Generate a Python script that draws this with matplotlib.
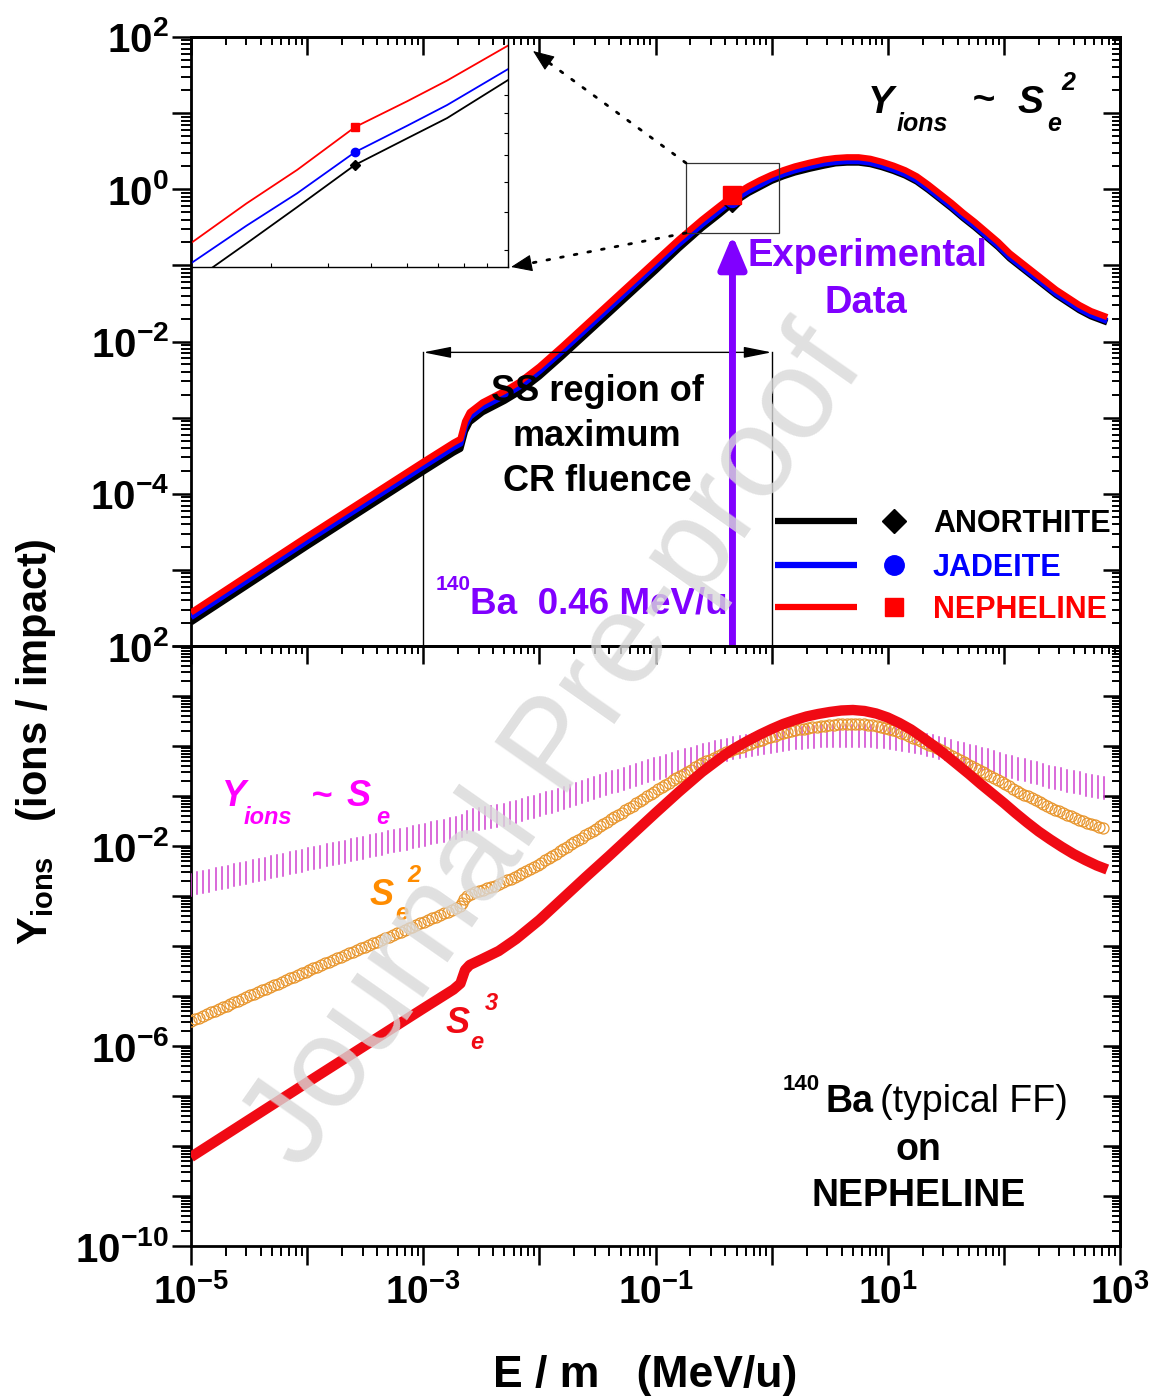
import numpy as np
import matplotlib
matplotlib.use("Agg")
import matplotlib.pyplot as plt
from matplotlib import font_manager as fm
from matplotlib.patheffects import AbstractPathEffect
from matplotlib.path import Path
from matplotlib.transforms import Affine2D, IdentityTransform
from matplotlib.lines import Line2D
from matplotlib.patches import FancyArrowPatch, Rectangle
from matplotlib.ticker import FixedLocator, FuncFormatter, NullFormatter

# ---------------------------------------------------------------- data
# (log10 values)
# Top panel: Y_ions ~ S_e^2 for three minerals
LOG_E_TOP = [-5.00, -4.00, -3.00, -2.74, -2.68, -2.64, -2.60, -2.49,
             -2.30, -2.17, -2.00, -1.80, -1.60, -1.40, -1.20, -1.00, -0.80, -0.60,
             -0.45, -0.34, -0.20, -0.10, 0.00, 0.10, 0.20, 0.33,
             0.45, 0.55, 0.65, 0.75, 0.85, 0.95, 1.05, 1.15, 1.25, 1.35,
             1.45, 1.55, 1.65, 1.75, 1.85, 1.95, 2.05, 2.15, 2.25, 2.35,
             2.45, 2.55, 2.65, 2.75, 2.89]
LOG_Y_NEPHELINE = [-5.56, -4.56, -3.58, -3.33, -3.28, -3.05, -2.93, -2.80,
                   -2.65, -2.53, -2.33, -2.06, -1.78, -1.50, -1.22, -0.94, -0.66, -0.40,
                   -0.22, -0.09, 0.04, 0.12, 0.19, 0.25, 0.30, 0.35,
                   0.39, 0.41, 0.42, 0.42, 0.40, 0.36, 0.31, 0.25, 0.17, 0.06,
                   -0.06, -0.18, -0.31, -0.43, -0.56, -0.69, -0.84, -0.96, -1.08, -1.20,
                   -1.32, -1.42, -1.52, -1.60, -1.68]
LOG_Y_JADEITE = [-5.62, -4.62, -3.64, -3.39, -3.34, -3.11, -2.99, -2.86,
                 -2.71, -2.59, -2.39, -2.12, -1.84, -1.56, -1.28, -1.00, -0.72, -0.46,
                 -0.28, -0.15, -0.02, 0.06, 0.14, 0.20, 0.25, 0.30,
                 0.34, 0.36, 0.37, 0.37, 0.35, 0.31, 0.26, 0.20, 0.12, 0.01,
                 -0.11, -0.23, -0.36, -0.48, -0.61, -0.74, -0.89, -1.01, -1.13, -1.25,
                 -1.37, -1.47, -1.57, -1.65, -1.73]
LOG_Y_ANORTHITE = [-5.69, -4.69, -3.71, -3.46, -3.41, -3.18, -3.06, -2.93,
                   -2.78, -2.66, -2.46, -2.19, -1.91, -1.63, -1.35, -1.07, -0.78, -0.51,
                   -0.33, -0.19, -0.05, 0.03, 0.11, 0.17, 0.22, 0.27,
                   0.31, 0.34, 0.35, 0.35, 0.33, 0.29, 0.24, 0.18, 0.10, -0.01,
                   -0.13, -0.25, -0.38, -0.50, -0.63, -0.76, -0.91, -1.03, -1.15, -1.27,
                   -1.39, -1.49, -1.59, -1.67, -1.75]

# Experimental point (140Ba, 0.46 MeV/u)
E_EXP = 0.46
Y_EXP = {"ANORTHITE": 0.662, "JADEITE": 0.714, "NEPHELINE": 0.828}

# Inset (zoom around the experimental point)
INSET_E = [0.20, 0.265, 0.343, 0.46, 0.60, 0.734, 1.00]
INSET_Y_NEPHELINE = [0.417, 0.527, 0.643, 0.828, 0.965, 1.09, 1.34]
INSET_Y_JADEITE = [0.370, 0.462, 0.560, 0.714, 0.835, 0.943, 1.166]
INSET_Y_ANORTHITE = [0.330, 0.416, 0.516, 0.662, 0.775, 0.873, 1.093]
INSET_XLIM = (0.20, 1.00)
INSET_YLIM = (0.362, 1.41)
ZOOM_BOX_E = (0.184, 1.16)
ZOOM_BOX_Y = (0.265, 2.21)

# Bottom panel: nepheline, Y ~ S_e, S_e^2, S_e^3
LOG_E_BOT = [-5.00, -4.00, -3.00, -2.74, -2.68, -2.64, -2.60, -2.50, -2.35, -2.20,
             -2.00, -1.80, -1.60, -1.40, -1.20, -1.00, -0.80, -0.60, -0.40, -0.30,
             -0.20, -0.10, 0.00, 0.10, 0.20, 0.30, 0.40, 0.50, 0.60, 0.70,
             0.80, 0.90, 1.00, 1.10, 1.20, 1.30, 1.40, 1.50, 1.60, 1.70,
             1.80, 1.90, 2.00, 2.10, 2.20, 2.30, 2.40, 2.50, 2.60, 2.70, 2.80, 2.89]
LOG_Y_SE1 = [-2.77, -2.27, -1.78, -1.65, -1.62, -1.53, -1.50, -1.46, -1.40, -1.31,
             -1.19, -1.05, -0.90, -0.75, -0.60, -0.46, -0.32, -0.19, -0.08, -0.03,
             0.01, 0.05, 0.09, 0.12, 0.15, 0.17, 0.19, 0.20, 0.21, 0.21,
             0.21, 0.19, 0.17, 0.14, 0.10, 0.05, -0.01, -0.07, -0.13, -0.19,
             -0.25, -0.31, -0.38, -0.44, -0.50, -0.56, -0.62, -0.67, -0.72, -0.77, -0.82, -0.86]
LOG_Y_SE2 = [-5.50, -4.50, -3.52, -3.27, -3.20, -3.03, -2.96, -2.89, -2.77, -2.60,
             -2.36, -2.07, -1.78, -1.49, -1.20, -0.90, -0.61, -0.35, -0.13, -0.05,
             0.03, 0.11, 0.19, 0.26, 0.31, 0.36, 0.39, 0.42, 0.44, 0.44,
             0.43, 0.40, 0.35, 0.28, 0.19, 0.09, -0.02, -0.13, -0.26, -0.38,
             -0.50, -0.62, -0.75, -0.88, -1.00, -1.12, -1.23, -1.33, -1.43, -1.52, -1.60, -1.67]
LOG_Y_SE3 = [-8.22, -6.73, -5.25, -4.87, -4.75, -4.48, -4.38, -4.27, -4.10, -3.86,
             -3.48, -3.05, -2.62, -2.20, -1.77, -1.34, -0.92, -0.52, -0.17, -0.02,
             0.11, 0.23, 0.34, 0.44, 0.52, 0.59, 0.64, 0.68, 0.71, 0.72,
             0.70, 0.65, 0.57, 0.46, 0.33, 0.17, 0.00, -0.18, -0.37, -0.56,
             -0.76, -0.95, -1.14, -1.34, -1.53, -1.71, -1.87, -2.02, -2.16, -2.28, -2.39, -2.47]

SS_E_RANGE = (1e-3, 1.0)
SS_ARROW_Y = 7.2e-3
EXP_ARROW_TOP = 0.25

TOP_YLABEL_EXP = [2, 0, -2, -4]
BOT_YLABEL_EXP = [2, -2, -6, -10]
X_LABEL_EXP = [-5, -3, -1, 1, 3]

# ---------------------------------------------------------------- style
BLACK, BLUE, RED = "#000000", "#0000FF", "#FF0000"
PURPLE = "#8000FF"
MAGENTA_TXT, MAGENTA_BAR = "#FF00FF", "#D040D0"
ORANGE_TXT, ORANGE_MK = "#FF8C00", "#E8962E"
RED3 = "#F00A14"


def has_font(name):
    try:
        fm.findfont(fm.FontProperties(family=name), fallback_to_default=False)
        return True
    except Exception:
        return False


NARROW = "Liberation Sans Narrow" if has_font("Liberation Sans Narrow") else "Liberation Sans"
XT_SIZE = 31 if NARROW != "Liberation Sans" else 28

plt.rcParams["font.family"] = ["Liberation Sans", "DejaVu Sans"]
plt.rcParams["font.weight"] = "bold"
plt.rcParams["mathtext.fontset"] = "custom"
plt.rcParams["mathtext.rm"] = "Liberation Sans:bold"
plt.rcParams["mathtext.it"] = "Liberation Sans:italic:bold"
plt.rcParams["mathtext.bf"] = NARROW + ":bold"


class StampAlong(AbstractPathEffect):
    """Draw a marker repeatedly along the rendered line."""

    def __init__(self, marker, size_px, spacing_px, color, lw, face=None):
        super().__init__()
        self.marker, self.size_px, self.spacing_px = marker, size_px, spacing_px
        self.color, self.lw, self.face = color, lw, face

    def draw_path(self, renderer, gc, tpath, affine, rgbFace=None):
        v = affine.transform(tpath.vertices)
        seg = np.hypot(*np.diff(v, axis=0).T)
        s = np.concatenate([[0.0], np.cumsum(seg)])
        t = np.arange(0.0, s[-1] + 1e-9, self.spacing_px)
        pts = np.column_stack([np.interp(t, s, v[:, 0]), np.interp(t, s, v[:, 1])])
        gc0 = renderer.new_gc()
        gc0.copy_properties(gc)
        gc0.set_foreground(self.color)
        gc0.set_linewidth(self.lw)
        gc0.set_dashes(0, None)
        mtrans = Affine2D().scale(self.size_px)
        renderer.draw_markers(gc0, self.marker, mtrans, Path(pts), IdentityTransform(), self.face)
        gc0.restore()


FIG_W, FIG_H, DPI = 1158, 1399, 100
fig = plt.figure(figsize=(FIG_W / DPI, FIG_H / DPI), dpi=DPI)
fig.patch.set_facecolor("white")


def fx(px):
    return px / FIG_W


def fy(py):
    return 1 - py / FIG_H


def ftext(px, py, s, **kw):
    kw.setdefault("ha", "left")
    kw.setdefault("va", "baseline")
    return fig.text(fx(px), fy(py), s, **kw)


L, R = 191, 1120
ax_top = fig.add_axes([fx(L), fy(646), fx(R) - fx(L), fy(37) - fy(646)])
ax_bot = fig.add_axes([fx(L), fy(1246), fx(R) - fx(L), fy(646) - fy(1246)])

X_MAJ = 10.0 ** np.arange(-5, 4)
X_MIN = [m * 10.0 ** k for k in range(-5, 3) for m in range(2, 10)]


def make_fmt(labeled, math="mathrm"):
    def f(v, pos):
        e = int(round(np.log10(v)))
        return r"$\%s{10^{%d}}$" % (math, e) if e in labeled else ""
    return FuncFormatter(f)


def dress(ax, ylo, yhi, ylabels, xlabels):
    ax.set_xscale("log")
    ax.set_yscale("log")
    ax.set_xlim(1e-5, 1e3)
    ax.set_ylim(10.0 ** ylo, 10.0 ** yhi)
    for sp in ax.spines.values():
        sp.set_linewidth(2.0)
    y_maj = 10.0 ** np.arange(ylo, yhi + 1)
    y_min = [m * 10.0 ** k for k in range(ylo, yhi) for m in range(2, 10)]
    ax.yaxis.set_major_locator(FixedLocator(y_maj))
    ax.yaxis.set_minor_locator(FixedLocator(y_min))
    ax.yaxis.set_major_formatter(make_fmt(ylabels))
    ax.yaxis.set_minor_formatter(NullFormatter())
    ax.xaxis.set_major_locator(FixedLocator(X_MAJ))
    ax.xaxis.set_minor_locator(FixedLocator(X_MIN))
    ax.xaxis.set_minor_formatter(NullFormatter())
    if xlabels:
        ax.xaxis.set_major_formatter(make_fmt(xlabels, "mathbf"))
        ax.tick_params(axis="x", which="major", labelsize=XT_SIZE, pad=6)
        ax.tick_params(axis="x", which="major", direction="out", length=14, width=1.8)
        ax.tick_params(axis="x", which="minor", direction="out", length=7, width=1.4)
    else:
        ax.xaxis.set_major_formatter(NullFormatter())
        ax.tick_params(axis="x", which="both", bottom=False, labelbottom=False)
    ax.tick_params(axis="y", which="major", direction="out", length=14, width=1.8,
                   labelsize=29, pad=2)
    ax.tick_params(axis="y", which="minor", direction="out", length=7, width=1.4)
    # inward ticks on the right and top
    sy = ax.secondary_yaxis("right")
    sy.yaxis.set_major_locator(FixedLocator(y_maj))
    sy.yaxis.set_minor_locator(FixedLocator(y_min))
    sy.yaxis.set_major_formatter(NullFormatter())
    sy.yaxis.set_minor_formatter(NullFormatter())
    sy.tick_params(which="major", direction="in", length=12, width=1.8)
    sy.tick_params(which="minor", direction="in", length=6, width=1.4)
    sy.spines["right"].set_linewidth(2.0)
    sx = ax.secondary_xaxis("top")
    sx.xaxis.set_major_locator(FixedLocator(X_MAJ))
    sx.xaxis.set_minor_locator(FixedLocator(X_MIN))
    sx.xaxis.set_major_formatter(NullFormatter())
    sx.xaxis.set_minor_formatter(NullFormatter())
    sx.tick_params(which="major", direction="in", length=13, width=1.8)
    sx.tick_params(which="minor", direction="in", length=6, width=1.4)
    sx.spines["top"].set_linewidth(2.0)


dress(ax_top, -6, 2, TOP_YLABEL_EXP, None)
dress(ax_bot, -10, 2, BOT_YLABEL_EXP, X_LABEL_EXP)

# ---------------------------------------------------------------- top panel
e_top = 10.0 ** np.array(LOG_E_TOP)
series_top = [("ANORTHITE", LOG_Y_ANORTHITE, BLACK, "D", 9),
              ("JADEITE", LOG_Y_JADEITE, BLUE, "o", 10),
              ("NEPHELINE", LOG_Y_NEPHELINE, RED, "s", 13)]
for name, ly, c, mk, ms in series_top:
    ax_top.plot(e_top, 10.0 ** np.array(ly), color=c, lw=4.5, solid_capstyle="butt",
                solid_joinstyle="round", zorder=3)
for name, ly, c, mk, ms in series_top:
    ax_top.plot([E_EXP], [Y_EXP[name]], marker=mk, ms=ms, color=c, ls="none", zorder=4)

# SS region (1e-3 .. 1 MeV/u)
for xe in SS_E_RANGE:
    ax_top.plot([xe, xe], [SS_ARROW_Y, 1e-6], color="black", lw=1.0, zorder=2)
ax_top.annotate("", xy=(SS_E_RANGE[0], SS_ARROW_Y), xytext=(SS_E_RANGE[1], SS_ARROW_Y),
                arrowprops=dict(arrowstyle="<|-|>,head_length=0.85,head_width=0.17",
                                mutation_scale=20, lw=1.0, color="black",
                                shrinkA=0, shrinkB=0))

# zoom box
ax_top.add_patch(Rectangle((ZOOM_BOX_E[0], ZOOM_BOX_Y[0]), ZOOM_BOX_E[1] - ZOOM_BOX_E[0],
                           ZOOM_BOX_Y[1] - ZOOM_BOX_Y[0], fill=False, lw=0.9,
                           ec="#333333", zorder=5))

# experimental arrow
ax_top.annotate("", xy=(E_EXP, EXP_ARROW_TOP), xytext=(E_EXP, 1e-6),
                arrowprops=dict(arrowstyle="-|>,head_length=1.0,head_width=0.42",
                                mutation_scale=20, lw=5, color=PURPLE,
                                shrinkA=0, shrinkB=0), annotation_clip=False, zorder=6)

# inset
axi = fig.add_axes([fx(191), fy(267), fx(508) - fx(191), fy(37) - fy(267)])
axi.set_xscale("log")
axi.set_yscale("log")
axi.set_xlim(*INSET_XLIM)
axi.set_ylim(*INSET_YLIM)
axi.set_facecolor("none")
for sp in axi.spines.values():
    sp.set_linewidth(1.0)
for ly, c in [(INSET_Y_ANORTHITE, BLACK), (INSET_Y_JADEITE, BLUE), (INSET_Y_NEPHELINE, RED)]:
    axi.plot(INSET_E, ly, color=c, lw=1.3)
axi.plot([E_EXP], [Y_EXP["ANORTHITE"]], "D", color=BLACK, ms=5)
axi.plot([E_EXP], [Y_EXP["JADEITE"]], "o", color=BLUE, ms=6)
axi.plot([E_EXP], [Y_EXP["NEPHELINE"]], "s", color=RED, ms=6)
axi.tick_params(which="both", direction="in", length=3, width=0.8, left=False, top=False,
                right=True, bottom=True, labelleft=False, labelbottom=False)
axi.xaxis.set_major_formatter(NullFormatter())
axi.xaxis.set_minor_formatter(NullFormatter())
axi.yaxis.set_major_formatter(NullFormatter())
axi.yaxis.set_minor_formatter(NullFormatter())

# dotted connectors (zoom box -> inset) with solid arrow heads
for (pa, pb) in [((686, 163), (533, 51)), ((686, 233), (511, 267))]:
    pa, pb = np.array(pa, float), np.array(pb, float)
    d = (pb - pa) / np.hypot(*(pb - pa))
    pm = pb - 14 * d
    fig.add_artist(FancyArrowPatch((fx(pa[0]), fy(pa[1])), (fx(pm[0]), fy(pm[1])),
                                   transform=fig.transFigure, arrowstyle="-",
                                   lw=2.0, ls=(0, (1.0, 4.0)), color="black",
                                   shrinkA=0, shrinkB=0, zorder=6))
    fig.add_artist(FancyArrowPatch((fx(pm[0]), fy(pm[1])), (fx(pb[0]), fy(pb[1])),
                                   transform=fig.transFigure,
                                   arrowstyle="-|>,head_length=0.75,head_width=0.3",
                                   mutation_scale=18, lw=0.8, color="black",
                                   shrinkA=0, shrinkB=0, zorder=6))

# legend (Origin style)
for i, (name, ly, c, mk, ms) in enumerate(series_top):
    yy = [521, 565, 607][i]
    fig.add_artist(Line2D([fx(775), fx(857)], [fy(yy), fy(yy)], color=c, lw=4.5,
                          transform=fig.transFigure, solid_capstyle="butt"))
    fig.add_artist(Line2D([fx(894)], [fy(yy)], marker=mk, ms=[12.5, 14, 13][i], color=c,
                          ls="none", transform=fig.transFigure))
    ftext(933, yy + 11, name, fontsize=22, color=c, weight="bold")

# top panel annotations
ftext(868, 113, "Y", fontsize=28, style="italic", weight="bold")
ftext(897, 131, "ions", fontsize=18, style="italic", weight="bold")
ftext(972, 111, "~", fontsize=28, style="italic", weight="bold")
ftext(1018, 113, "S", fontsize=28, style="italic", weight="bold")
ftext(1047, 131, "e", fontsize=18, style="italic", weight="bold")
ftext(1061, 90, "2", fontsize=18, style="italic", weight="bold")

ftext(597, 401, "SS region of", fontsize=26, ha="center")
ftext(597, 446, "maximum", fontsize=26, ha="center")
ftext(597, 491, "CR fluence", fontsize=26, ha="center")

ftext(747, 266, "Experimental", fontsize=27.5, color=PURPLE)
ftext(866, 313, "Data", fontsize=27.5, color=PURPLE, ha="center")

ftext(436, 590, "140", fontsize=15, color=PURPLE)
ftext(470, 613, "Ba  0.46 MeV/u", fontsize=26.5, color=PURPLE)

# ---------------------------------------------------------------- bottom panel
e_bot = 10.0 ** np.array(LOG_E_BOT)
ax_bot.plot(e_bot, 10.0 ** np.array(LOG_Y_SE1), color=MAGENTA_BAR, lw=1,
            path_effects=[StampAlong(Path([[0, -0.5], [0, 0.5]]), 22, 6.3, MAGENTA_BAR, 1.1)],
            zorder=3)
ax_bot.plot(e_bot, 10.0 ** np.array(LOG_Y_SE2), color=ORANGE_MK, lw=1,
            path_effects=[StampAlong(Path.unit_circle(), 5.5, 4.3, ORANGE_MK, 0.9)],
            zorder=4)
ax_bot.plot(e_bot, 10.0 ** np.array(LOG_Y_SE3), color=RED3, lw=7.5,
            solid_capstyle="butt", solid_joinstyle="round", zorder=5)

ftext(222, 806, "Y", fontsize=26, style="italic", color=MAGENTA_TXT)
ftext(244, 824, "ions", fontsize=17, style="italic", color=MAGENTA_TXT)
ftext(311, 806, "~", fontsize=26, style="italic", color=MAGENTA_TXT)
ftext(347, 806, "S", fontsize=26, style="italic", color=MAGENTA_TXT)
ftext(376, 824, "e", fontsize=17, style="italic", color=MAGENTA_TXT)

ftext(370, 905, "S", fontsize=26, style="italic", color=ORANGE_TXT)
ftext(395, 920, "e", fontsize=17, style="italic", color=ORANGE_TXT)
ftext(407, 882, "2", fontsize=17, style="italic", color=ORANGE_TXT)

ftext(446, 1033, "S", fontsize=26, style="italic", color=RED3)
ftext(470, 1049, "e", fontsize=17, style="italic", color=RED3)
ftext(485, 1010, "3", fontsize=17, style="italic", color=RED3)

ftext(783, 1090, "140", fontsize=16)
ftext(825, 1112, "Ba", fontsize=27)
ftext(880, 1112, "(typical FF)", fontsize=27, weight="normal")
ftext(918, 1160, "on", fontsize=27, ha="center")
ftext(919, 1206, "NEPHELINE", fontsize=27, ha="center")

# ---------------------------------------------------------------- axis titles
fig.text(fx(36), fy(742), r"$\mathrm{Y_{ions}}$   (ions / impact)", rotation=90,
         fontsize=30, ha="center", va="center")
fig.text(fx(645), fy(1376), "E / m   (MeV/u)", fontsize=32, family=NARROW,
         ha="center", va="center")

# watermark
fig.text(fx(557), fy(750), "Journal Pre-proof", rotation=55, fontsize=92,
         color="#d9d9d9", alpha=0.8, weight="normal", ha="center", va="center",
         rotation_mode="anchor", zorder=10)

fig.savefig("out.png", dpi=DPI)
